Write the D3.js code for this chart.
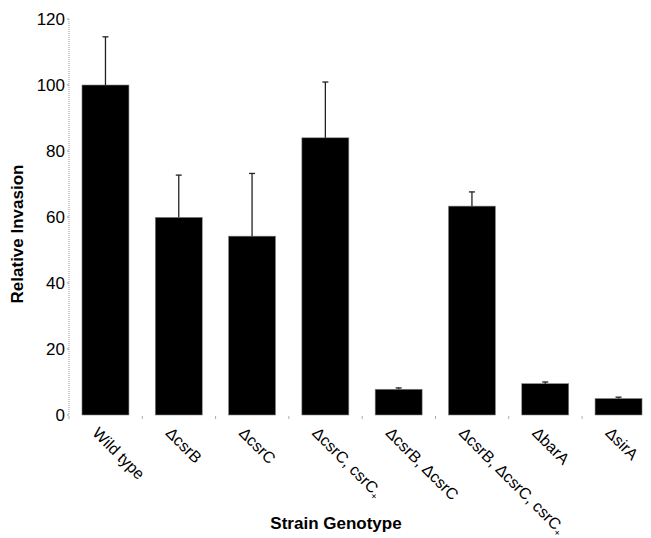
<!DOCTYPE html>
<html>
<head>
<meta charset="utf-8">
<script src="https://cdn.jsdelivr.net/npm/d3@7"></script>
<style>
  body { margin: 0; background: #fff; }
  text { font-family: Arial, "Liberation Sans", sans-serif; }
</style>
</head>
<body>
<svg width="651" height="538"></svg>
<script>
// strain names; a trailing "+" is drawn as a small subscript
const strains = ["Wild type", "ΔcsrB", "ΔcsrC", "ΔcsrC, csrC+", "ΔcsrB, ΔcsrC",
    "ΔcsrB, ΔcsrC, csrC+", "ΔbarA", "ΔsirA"];
const invasion = [100, 59.9, 54.2, 84, 7.8, 63.3, 9.5, 5.0];
const errorTop = [114.6, 72.7, 73.2, 100.9, 8.2, 67.6, 10.0, 5.4];
const yTicks = [0, 20, 40, 60, 80, 100, 120];

const svg = d3.select("svg");

const x = d3.scaleBand()
    .domain(strains)
    .range([69, 655])
    .paddingInner(0.359)
    .paddingOuter(0.177);

const y = d3.scaleLinear()
    .domain([0, 120])
    .range([415, 19]);

// y axis: dotted grey line, Excel style
svg.append("line")
    .attr("x1", 69).attr("x2", 69)
    .attr("y1", y(120)).attr("y2", y(0))
    .attr("stroke", "#999")
    .attr("stroke-width", 1)
    .attr("stroke-dasharray", "1,1");

svg.append("g")
    .selectAll("text")
    .data(yTicks)
    .enter().append("text")
    .attr("x", 65)
    .attr("y", d => y(d))
    .attr("dy", "0.36em")
    .attr("text-anchor", "end")
    .attr("font-size", "17px")
    .attr("fill", "#000")
    .text(d => d);

svg.append("g")
    .selectAll("line")
    .data(yTicks)
    .enter().append("line")
    .attr("x1", 67).attr("x2", 69)
    .attr("y1", d => y(d)).attr("y2", d => y(d))
    .attr("stroke", "#999");

// little category ticks at band boundaries
svg.append("g")
    .selectAll("line")
    .data(d3.range(strains.length + 1))
    .enter().append("line")
    .attr("x1", i => 69 + i * x.step())
    .attr("x2", i => 69 + i * x.step())
    .attr("y1", y(0) + 1)
    .attr("y2", y(0) + 4)
    .attr("stroke", "#aaa");

// bars
svg.append("g")
    .selectAll("rect")
    .data(strains)
    .enter().append("rect")
    .attr("x", d => x(d))
    .attr("width", x.bandwidth())
    .attr("y", (d, i) => y(invasion[i]))
    .attr("height", (d, i) => y(0) - y(invasion[i]))
    .attr("fill", "#000")
    .attr("stroke", "#888")
    .attr("stroke-width", 0.6);

// error bars (upper only)
const err = svg.append("g")
    .selectAll("g")
    .data(strains)
    .enter().append("g")
    .attr("stroke", "#222")
    .attr("stroke-width", 1.3);

err.append("line")
    .attr("x1", d => x(d) + x.bandwidth() / 2)
    .attr("x2", d => x(d) + x.bandwidth() / 2)
    .attr("y1", (d, i) => y(invasion[i]))
    .attr("y2", (d, i) => y(errorTop[i]));

err.append("line")
    .attr("x1", d => x(d) + x.bandwidth() / 2 - 3)
    .attr("x2", d => x(d) + x.bandwidth() / 2 + 3)
    .attr("y1", (d, i) => y(errorTop[i]))
    .attr("y2", (d, i) => y(errorTop[i]));

// rotated category labels
const lbl = svg.append("g")
    .selectAll("text")
    .data(strains)
    .enter().append("text")
    .attr("transform", d => "translate(" + (x(d) + x.bandwidth() / 2 - 14) + ",434) rotate(45)")
    .attr("font-size", "16px")
    .attr("fill", "#000");

lbl.each(function(d) {
    const t = d3.select(this);
    if (d.endsWith("+")) {
        t.append("tspan").text(d.slice(0, -1));
        t.append("tspan")
            .attr("font-size", "10px")
            .attr("dy", "3")
            .text("+");
    } else {
        t.text(d);
    }
});

// axis titles
svg.append("text")
    .attr("transform", "translate(23,234) rotate(-90)")
    .attr("text-anchor", "middle")
    .attr("font-size", "17px")
    .attr("font-weight", "bold")
    .text("Relative Invasion");

svg.append("text")
    .attr("x", 336)
    .attr("y", 529)
    .attr("text-anchor", "middle")
    .attr("font-size", "17px")
    .attr("font-weight", "bold")
    .text("Strain Genotype");
</script>
</body>
</html>
